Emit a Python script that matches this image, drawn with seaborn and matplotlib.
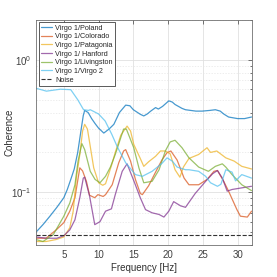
import numpy as np
import pandas as pd
import matplotlib
matplotlib.use("Agg")
import matplotlib.pyplot as plt
import seaborn as sns
from matplotlib.ticker import LogLocator, NullFormatter, FixedLocator

# ---- data ----
labels = ["Virgo 1/Poland", "Virgo 1/Colorado", "Virgo 1/Patagonia",
          "Virgo 1/ Hanford", "Virgo 1/Livingston", "Virgo 1/Virgo 2"]

poland_f = [1, 2, 3, 4, 5, 5.5, 6, 6.5, 7, 7.5, 7.8, 8, 8.5, 9, 9.5, 10, 10.75, 11.5, 12.2,
            13, 13.9, 14.5, 15, 16, 16.5, 17, 17.5, 18.2, 18.6, 19.2, 20.1, 20.6, 21, 22,
            22.5, 24, 24.9, 26, 26.8, 27.5, 28, 28.7, 30, 31, 32]
poland_v = [0.050, 0.057, 0.066, 0.077, 0.091, 0.105, 0.125, 0.15, 0.2, 0.3, 0.38, 0.415,
            0.40, 0.36, 0.33, 0.305, 0.28, 0.30, 0.326, 0.40, 0.455, 0.45, 0.42, 0.388,
            0.377, 0.39, 0.41, 0.436, 0.425, 0.445, 0.49, 0.48, 0.46, 0.43, 0.42, 0.41,
            0.41, 0.415, 0.42, 0.41, 0.39, 0.37, 0.36, 0.36, 0.37]

colorado_f = [1, 2.45, 3.9, 5, 5.86, 6.6, 7.06, 7.3, 7.7, 8.25, 8.7, 9.45, 9.9, 10.66, 11.0,
              11.96, 12.9, 13.6, 13.9, 14.6, 15.3, 16.0, 16.3, 17.2, 18.2, 19.1, 19.85,
              20.4, 21.3, 22.3, 23.0, 24.4, 25.6, 26.6, 27.1, 28.0, 28.7, 29.9, 30.4,
              31.4, 32]
colorado_v = [0.045, 0.045, 0.052, 0.059, 0.072, 0.091, 0.128, 0.153, 0.145, 0.121, 0.095,
              0.091, 0.096, 0.093, 0.096, 0.114, 0.167, 0.205, 0.21, 0.172, 0.125, 0.098,
              0.096, 0.112, 0.142, 0.175, 0.199, 0.205, 0.175, 0.128, 0.114, 0.114, 0.125,
              0.144, 0.146, 0.121, 0.102, 0.074, 0.066, 0.065, 0.072]

patagonia_f = [1, 2.45, 3.9, 5, 5.86, 6.35, 6.8, 7.3, 7.7, 8.0, 8.4, 9.3, 10.0, 10.6, 11.0,
               11.9, 12.4, 13.2, 14.1, 14.6, 15.06, 16.0, 16.5, 17.2, 18.2, 18.9, 19.6,
               20.3, 21.0, 21.7, 22.2, 23.0, 24.4, 25.6, 26.1, 27.0, 28.3, 29.5, 30.6, 32]
patagonia_v = [0.0425, 0.0425, 0.044, 0.046, 0.054, 0.072, 0.128, 0.193, 0.29, 0.326, 0.30,
               0.153, 0.118, 0.113, 0.116, 0.162, 0.2, 0.27, 0.316, 0.29, 0.23, 0.18,
               0.157, 0.17, 0.187, 0.205, 0.205, 0.195, 0.148, 0.13, 0.155, 0.18, 0.193,
               0.217, 0.2, 0.205, 0.182, 0.172, 0.157, 0.15]

hanford_f = [1, 2.5, 4, 5, 5.86, 6.6, 7.3, 7.8, 8.0, 8.7, 9.45, 10.2, 11.0, 11.85, 12.4,
             13.4, 14.1, 15.1, 16.0, 16.75, 17.7, 18.7, 19.4, 20.1, 20.8, 21.8, 22.5,
             23.9, 25.4, 26.4, 27.1, 27.8, 28.5, 29.2, 30.6, 32]
hanford_v = [0.046, 0.045, 0.045, 0.047, 0.052, 0.062, 0.091, 0.128, 0.13, 0.094, 0.057,
             0.06, 0.072, 0.075, 0.096, 0.144, 0.164, 0.121, 0.091, 0.074, 0.070, 0.068,
             0.065, 0.072, 0.085, 0.079, 0.077, 0.098, 0.121, 0.138, 0.146, 0.128, 0.102,
             0.105, 0.108, 0.111]

livingston_f = [1, 2.0, 3.5, 5.0, 5.86, 6.6, 7.05, 7.6, 8.0, 8.8, 9.5, 10.2, 11.0, 11.7,
                12.4, 13.6, 14.0, 15.06, 15.8, 16.5, 17.7, 18.7, 19.6, 20.3, 21.0, 22.0,
                23.0, 24.4, 25.8, 26.8, 27.8, 28.3, 29.2, 30.6, 32]
livingston_v = [0.044, 0.0425, 0.048, 0.066, 0.083, 0.114, 0.172, 0.233, 0.21, 0.144, 0.125,
                0.118, 0.132, 0.155, 0.193, 0.30, 0.30, 0.217, 0.153, 0.118, 0.121, 0.148,
                0.205, 0.24, 0.247, 0.217, 0.182, 0.155, 0.144, 0.157, 0.164, 0.155, 0.136,
                0.114, 0.103]

virgo2_f = [1, 2.5, 4.5, 6.0, 7.0, 7.84, 8.55, 8.8, 9.2, 10.0, 10.95, 11.9, 12.7, 13.9,
            15.3, 16.3, 17.7, 19.1, 19.85, 20.6, 21.3, 22.5, 23.0, 24.4, 25.4, 26.1, 27.1,
            27.6, 28.3, 29.2, 29.7, 30.6, 32]
virgo2_v = [0.61, 0.58, 0.60, 0.595, 0.50, 0.42, 0.415, 0.42, 0.41, 0.39, 0.345, 0.274,
            0.22, 0.167, 0.136, 0.132, 0.144, 0.165, 0.182, 0.172, 0.155, 0.148, 0.148,
            0.144, 0.132, 0.118, 0.111, 0.115, 0.148, 0.142, 0.122, 0.136, 0.128]

noise_f = [1, 32]
noise_v = [0.048, 0.048]

colors = ["#0072BD", "#D95319", "#EDB120", "#7E2F8E", "#77AC30", "#4DBEEE"]

series_f = [poland_f, colorado_f, patagonia_f, hanford_f, livingston_f, virgo2_f]
series_v = [poland_v, colorado_v, patagonia_v, hanford_v, livingston_v, virgo2_v]

frames = []
for lab, fs, vs in zip(labels, series_f, series_v):
    frames.append(pd.DataFrame({"Frequency": fs, "Coherence": vs, "Pair": lab}))
df = pd.concat(frames, ignore_index=True)
noise_df = pd.DataFrame({"Frequency": noise_f, "Coherence": noise_v})

# ---- plot ----
sns.set_style("white")
plt.rcParams["font.family"] = ["Liberation Sans", "DejaVu Sans"]

fig = plt.figure(figsize=(2.77, 2.77), dpi=100)
ax = fig.add_axes([0.130, 0.1155, 0.778, 0.8125])

sns.lineplot(data=df, x="Frequency", y="Coherence", hue="Pair", hue_order=labels,
             palette=dict(zip(labels, colors)), estimator=None, sort=False,
             linewidth=0.9, alpha=0.72, ax=ax)
sns.lineplot(data=noise_df, x="Frequency", y="Coherence", color="#333333",
             linestyle="--", linewidth=0.8, label="Noise", ax=ax)

ax.set_yscale("log")
ax.set_xlim(1, 32)
ax.set_ylim(0.04, 2)
ax.xaxis.set_major_locator(FixedLocator([5, 10, 15, 20, 25, 30]))
ax.yaxis.set_major_locator(LogLocator(base=10))
ax.yaxis.set_minor_locator(LogLocator(base=10, subs=np.arange(2, 10)))
ax.yaxis.set_minor_formatter(NullFormatter())

ax.grid(True, which="major", color="#e0e0e0", linewidth=0.6, linestyle="-")
ax.grid(True, which="minor", axis="y", color="#e6e6e6", linewidth=0.5, linestyle=(0, (2, 2)))
ax.set_axisbelow(True)

ax.tick_params(which="both", direction="in", top=True, right=True,
               labelsize=7, colors="#404040", width=0.5)
ax.tick_params(which="major", length=3)
ax.tick_params(which="minor", length=1.5)
for s in ax.spines.values():
    s.set_color("#707070")
    s.set_linewidth(0.6)

ax.set_xlabel("Frequency [Hz]", fontsize=7, color="#303030", labelpad=2)
ax.set_ylabel("Coherence", fontsize=7, color="#303030")
ax.yaxis.set_label_coords(-0.098, 0.5)

handles, labs = ax.get_legend_handles_labels()
leg = ax.legend(handles, labs, loc="upper left", fontsize=5.2, frameon=True,
                fancybox=False, edgecolor="#404040", framealpha=1,
                handlelength=1.6, handletextpad=0.4, borderpad=0.3,
                labelspacing=0.22, borderaxespad=0.35)
leg.get_frame().set_linewidth(0.6)

fig.savefig("out.png", dpi=100)
